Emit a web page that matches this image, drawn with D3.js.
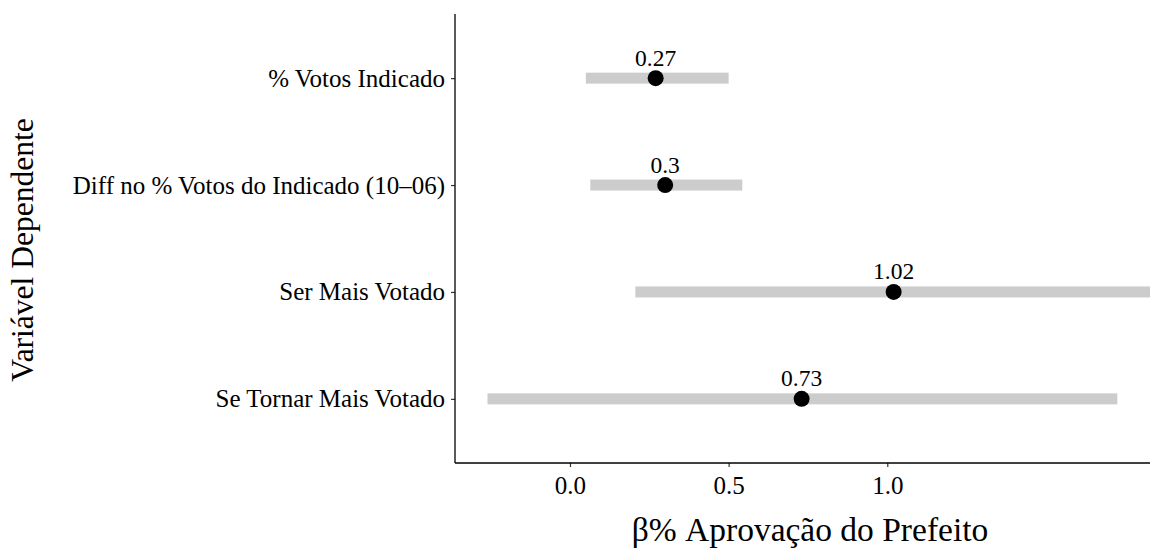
<!DOCTYPE html>
<html>
<head>
<meta charset="utf-8">
<script src="https://cdn.jsdelivr.net/npm/d3@7"></script>
<style>
  body { margin:0; background:#fff; }
  svg text { font-family: "Liberation Serif", "Times New Roman", serif; fill:#000; }
</style>
</head>
<body>
<div id="chart"></div>
<script>
// Coefficient plot — β % Aprovação do Prefeito per dependent variable

const categories = [
  "% Votos Indicado",
  "Diff no % Votos do Indicado (10\u201306)",
  "Ser Mais Votado",
  "Se Tornar Mais Votado"
];
const estimates = [0.27, 0.30, 1.02, 0.73];
const estLabels = ["0.27", "0.3", "1.02", "0.73"];
const lower = [0.05, 0.064, 0.206, -0.26];
const upper = [0.50, 0.543, 1.85, 1.725];
const xTicks = [0, 0.5, 1.0];
const xTickLabels = ["0.0", "0.5", "1.0"];

const rows = categories.map((c, i) => ({
  cat: c, est: estimates[i], lab: estLabels[i], lo: lower[i], hi: upper[i]
}));

const width = 1150, height = 548;
const panel = {left:455, right:1150, top:14, bottom:463};

const svg = d3.select("#chart").append("svg")
  .attr("width", width).attr("height", height);

const x = d3.scaleLinear().domain([-0.3624, 1.828]).range([panel.left, panel.right]);
const y = d3.scalePoint().domain(categories).range([panel.top, panel.bottom]).padding(0.6);

svg.append("clipPath").attr("id","clip")
  .append("rect")
  .attr("x", panel.left).attr("y", panel.top)
  .attr("width", panel.right - panel.left).attr("height", panel.bottom - panel.top);

const plot = svg.append("g").attr("clip-path","url(#clip)");

// interval bars
plot.selectAll("rect.ci").data(rows).join("rect")
  .attr("class","ci")
  .attr("x", d => x(d.lo))
  .attr("width", d => x(d.hi) - x(d.lo))
  .attr("y", d => y(d.cat) - 5.5)
  .attr("height", 11)
  .attr("fill", "#cccccc");

// points
plot.selectAll("circle.pt").data(rows).join("circle")
  .attr("class","pt")
  .attr("cx", d => x(d.est))
  .attr("cy", d => y(d.cat))
  .attr("r", 8)
  .attr("fill", "#000");

// value labels
plot.selectAll("text.val").data(rows).join("text")
  .attr("class","val")
  .attr("x", d => x(d.est))
  .attr("y", d => y(d.cat) - 12.5)
  .attr("text-anchor","middle")
  .style("font-size","23.5px")
  .text(d => d.lab);

// axes
const xAxis = d3.axisBottom(x).tickValues(xTicks)
  .tickFormat((d, i) => xTickLabels[i]).tickSize(4).tickPadding(6);
const yAxis = d3.axisLeft(y).tickSize(4).tickPadding(6);

const xg = svg.append("g").attr("transform", `translate(0,${panel.bottom})`).call(xAxis);
const yg = svg.append("g").attr("transform", `translate(${panel.left},0)`).call(yAxis);

[xg, yg].forEach(g => {
  g.select(".domain").remove();
  g.selectAll(".tick line").attr("stroke","#333").attr("stroke-width",1.2);
  g.selectAll(".tick text").style("font-size","25px").attr("fill","#000");
});
xg.selectAll(".tick text").attr("dy","0.85em");

// axis lines
svg.append("line")
  .attr("x1", panel.left).attr("x2", panel.left)
  .attr("y1", panel.top).attr("y2", panel.bottom)
  .attr("stroke","#000").attr("stroke-width",1.3);
svg.append("line")
  .attr("x1", panel.left).attr("x2", panel.right)
  .attr("y1", panel.bottom).attr("y2", panel.bottom)
  .attr("stroke","#000").attr("stroke-width",1.3);

// titles
svg.append("text")
  .attr("x", 810)
  .attr("y", 541)
  .attr("text-anchor","middle")
  .style("font-size","33.5px")
  .text("\u03B2% Aprovação do Prefeito");

svg.append("text")
  .attr("transform", `translate(33,250) rotate(-90)`)
  .attr("text-anchor","middle")
  .style("font-size","31.5px")
  .text("Variável Dependente");
</script>
</body>
</html>
